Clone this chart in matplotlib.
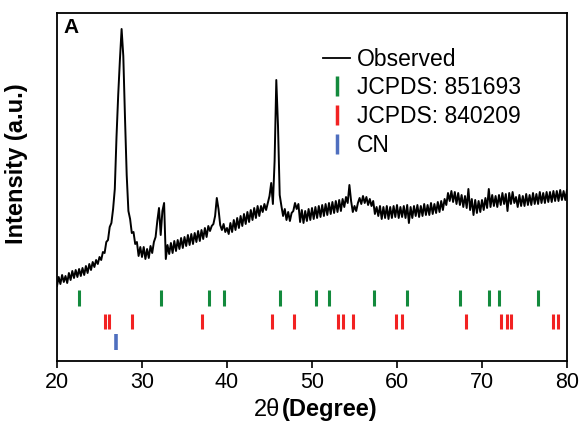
import numpy as np
import matplotlib
matplotlib.use('Agg')
import matplotlib.pyplot as plt
from matplotlib.lines import Line2D

plt.rcParams['font.family'] = ['Liberation Sans', 'DejaVu Sans']

# observed pattern, 0.2 degree steps from 20 to 80 (arbitrary units)
intensity = [
    75, 84, 77, 86, 79, 85, 78, 88, 81, 90,
    83, 91, 84, 92, 85, 93, 86, 95, 88, 97,
    91, 99, 94, 101, 97, 104, 101, 109, 108, 119,
    121, 134, 138, 152, 172, 224, 266, 301, 332, 305,
    243, 186, 150, 142, 128, 129, 117, 119, 105, 114,
    104, 114, 102, 112, 103, 115, 108, 119, 124, 140,
    153, 126, 150, 158, 102, 116, 107, 118, 108, 120,
    110, 121, 112, 123, 113, 124, 115, 126, 116, 127,
    117, 128, 119, 130, 120, 131, 122, 133, 124, 135,
    130, 135, 137, 145, 163, 152, 136, 131, 137, 129,
    133, 127, 138, 129, 141, 131, 143, 133, 145, 135,
    147, 137, 149, 139, 151, 141, 153, 143, 155, 145,
    155, 149, 157, 151, 158, 165, 178, 157, 200, 281,
    235, 166, 155, 145, 152, 141, 149, 140, 148, 150,
    158, 152, 157, 139, 151, 138, 150, 140, 152, 141,
    153, 142, 154, 143, 155, 144, 156, 145, 157, 146,
    158, 147, 159, 148, 160, 149, 161, 150, 162, 154,
    164, 158, 176, 160, 149, 155, 150, 158, 163, 157,
    165, 158, 164, 156, 162, 155, 160, 147, 154, 145,
    155, 142, 154, 143, 155, 142, 154, 143, 155, 144,
    156, 143, 154, 144, 155, 143, 156, 138, 154, 143,
    155, 145, 156, 144, 155, 145, 157, 146, 156, 146,
    158, 147, 157, 148, 159, 149, 160, 151, 162, 156,
    168, 160, 170, 159, 169, 157, 168, 156, 166, 154,
    165, 153, 172, 151, 162, 146, 161, 148, 160, 149,
    161, 151, 163, 153, 172, 154, 166, 155, 165, 154,
    166, 156, 168, 157, 167, 150, 168, 157, 169, 158,
    164, 154, 166, 155, 165, 155, 167, 156, 166, 156,
    168, 157, 167, 157, 169, 158, 168, 158, 169, 159,
    169, 159, 170, 160, 170, 160, 171, 161, 170, 161,
    171,
]
two_theta = 20 + 0.2 * np.arange(len(intensity))

# reference peak positions (2theta)
jcpds_851693 = [22.55, 32.2, 37.9, 39.6, 46.2, 50.5, 52.0, 57.3, 61.2, 67.4,
                70.8, 72.0, 76.6]
jcpds_840209 = [25.65, 26.1, 28.8, 37.0, 45.3, 47.9, 53.1, 53.7, 54.8, 59.9,
                60.55, 68.1, 72.2, 72.9, 73.4, 78.4, 78.9]
cn_peaks = [26.9]

green = '#138a3d'
red = '#f22222'
blue = '#4f6fbf'

fig = plt.figure(figsize=(5.8, 4.33), dpi=100)
ax = fig.add_axes([57/580, 1-361/433, 510/580, 348.5/433])

ax.plot(two_theta, intensity, color='black', lw=1.4)
ax.vlines(jcpds_851693, 55, 71, color=green, lw=2.2)
ax.vlines(jcpds_840209, 32, 47, color=red, lw=2.2)
ax.vlines(cn_peaks, 11, 27, color=blue, lw=2.6)

ax.set_xlim(20, 80)
ax.set_ylim(0, 348.5)
ax.set_xticks(range(20, 81, 10))
ax.set_yticks([])
ax.tick_params(axis='x', direction='out', length=5, width=1.2, labelsize=15.5, pad=3)
for s in ax.spines.values():
    s.set_linewidth(1.3)

ax.set_ylabel('Intensity (a.u.)', fontsize=17, fontweight='bold')
ax.yaxis.set_label_coords(-0.057, 0.565)
ax.text(0.437, -0.14, '2θ', transform=ax.transAxes, fontsize=17,
        ha='right', va='center')
ax.text(0.441, -0.14, '(Degree)', transform=ax.transAxes, fontsize=17,
        fontweight='bold', ha='left', va='center')
ax.text(0.012, 0.985, 'A', transform=ax.transAxes, fontsize=15,
        fontweight='bold', ha='left', va='top')

handles = [
    Line2D([], [], color='black', lw=1.3),
    Line2D([], [], ls='none', marker='|', color=green, markersize=14, mew=2.5),
    Line2D([], [], ls='none', marker='|', color=red, markersize=14, mew=2.5),
    Line2D([], [], ls='none', marker='|', color=blue, markersize=14, mew=2.5),
]
labels = ['Observed', 'JCPDS: 851693', 'JCPDS: 840209', 'CN']
ax.legend(handles, labels, loc='upper left', bbox_to_anchor=(0.49, 0.945),
          frameon=False, fontsize=16.5, handlelength=1.2, handletextpad=0.3,
          labelspacing=0.25, borderpad=0.2)

fig.savefig('out.png', dpi=100)
